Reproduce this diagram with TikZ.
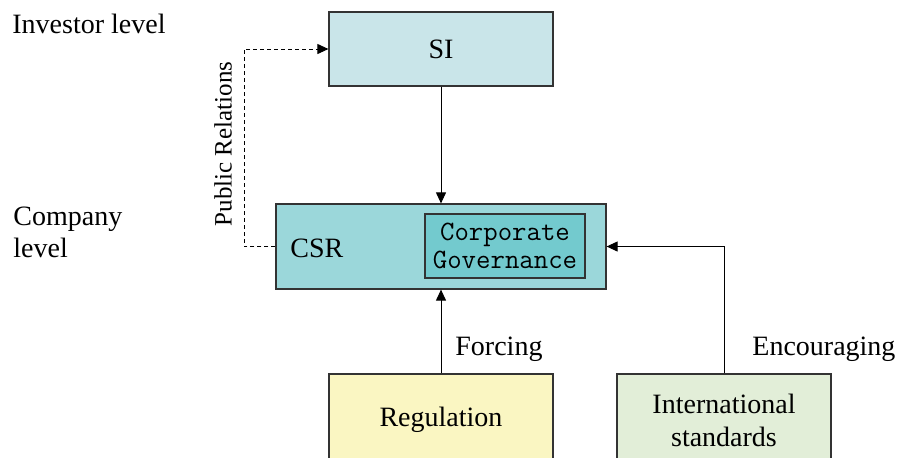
\documentclass[tikz,border=0pt]{standalone}
\usepackage{fontspec}
\setmainfont{Liberation Serif}
\usepackage{tikz}
\usetikzlibrary{arrows.meta}
\definecolor{siblue}{RGB}{201,229,233}
\definecolor{csrblue}{RGB}{155,215,218}
\definecolor{govblue}{RGB}{115,202,206}
\definecolor{regyellow}{RGB}{250,246,194}
\definecolor{stdgreen}{RGB}{226,238,216}
\tikzset{box/.style={draw=black!80, line width=0.6pt, inner sep=0pt, align=center, font=\fontsize{14}{16.5}\selectfont}}
\tikzset{arr/.style={-{Triangle[length=5.5pt, width=5pt]}, line width=0.5pt}}
\tikzset{txt/.style={inner sep=0pt, align=left, font=\fontsize{14}{16}\selectfont}}

\begin{document}
\begin{tikzpicture}[x=0.5pt, y=-0.5pt]
    \useasboundingbox (0, 0) rectangle (898, 457);

    \coordinate (PR) at (244, 246.5);

    \node [box, fill=siblue, minimum width=112pt, minimum height=37pt] (si) at (441, 49) {SI};
    \node [box, fill=csrblue, minimum width=165pt, minimum height=42.5pt] (csr) at (441, 246.5) {};
    \node [box, fill=govblue, minimum width=80pt, minimum height=32pt,
        font=\ttfamily\fontsize{14}{14}\selectfont] (gov) at (505, 246) {Corporate\\Governance};
    \node [txt, anchor=base west] (csrlabel) at (290, 257) {CSR};
    \node [box, fill=regyellow, minimum width=112pt, minimum height=46pt] (reg) at (441, 420) {Regulation};
    \node [box, fill=stdgreen, minimum width=107pt, minimum height=46pt] (std) at (724, 420) {International\\standards};

    % levels
    \node [txt, anchor=base west] (inv) at (12, 33) {Investor level};
    \node [txt, anchor=north west] (comp) at (13, 207) {Company\\level};

    \draw [arr] (si) -- (csr);
    \draw [arr] (reg) -- (csr);
    \draw [arr] (std) |- (csr);
    \draw [arr, dash pattern=on 2pt off 1.5pt] (csr.west) -- (PR) |- (si);

    \node [txt, anchor=base west] (forcing) at (455, 355) {Forcing};
    \node [txt, anchor=base west] (encouraging) at (752, 355) {Encouraging};
    \node [txt, rotate=90, font=\fontsize{12.5}{15}\selectfont] (pubrel) at (223, 144) {Public Relations};
\end{tikzpicture}
\end{document}
